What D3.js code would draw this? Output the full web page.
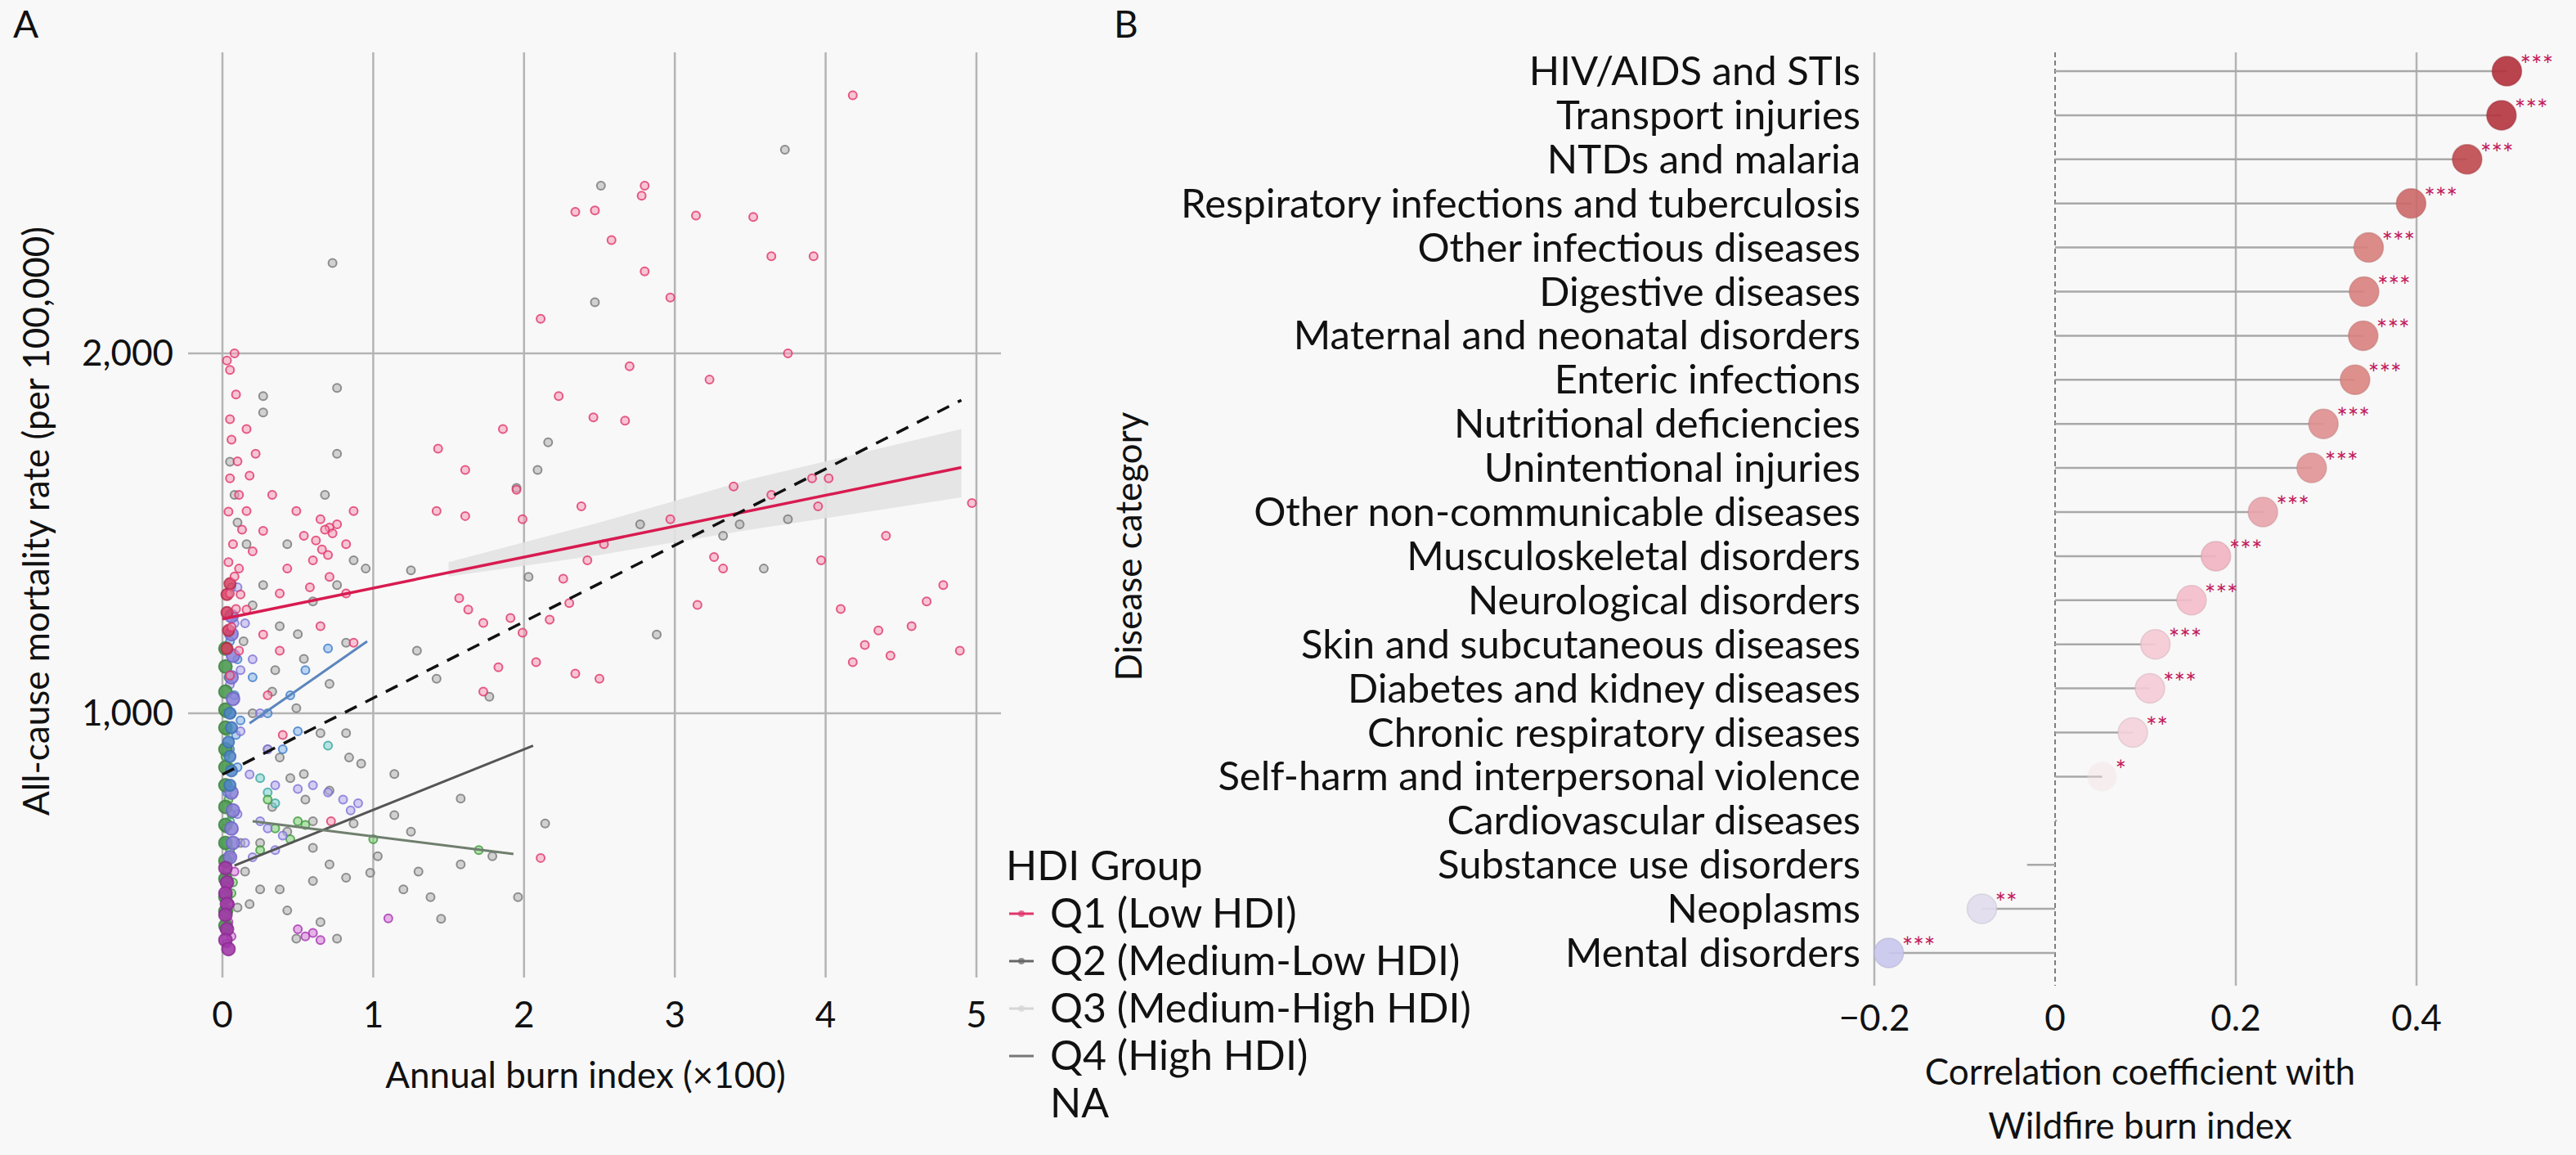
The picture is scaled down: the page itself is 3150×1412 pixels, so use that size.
<!DOCTYPE html>
<html>
<head>
<meta charset="utf-8">
<script src="https://cdn.jsdelivr.net/npm/d3@7"></script>
<style>
  body { margin: 0; background: #f8f8f8; }
  text { font-family: Lato, "Open Sans", sans-serif; fill: #111; }
</style>
</head>
<body>
<svg id="chart" width="3150" height="1412"></svg>
<script>
// ---- panel A data: [burn index (x100), mortality per 100,000] ----
var q1Points = [
  [4.18,2717],[2.8,2466],[2.78,2438],[2.34,2393],[2.47,2397],[3.14,2383],[3.52,2379],[3.64,2270],
  [3.92,2270],[2.58,2315],[2.8,2228],[2.97,2155],[2.11,2096],[3.75,2000],[2.7,1964],[3.23,1927],
  [2.23,1881],[2.46,1822],[2.67,1813],[1.86,1790],[1.43,1735],[1.61,1676],[1.95,1621],[2.38,1575],
  [1.61,1548],[1.42,1562],[1.99,1539],[3.39,1630],[3.64,1607],[3.91,1653],[3.95,1575],[4.02,1653],
  [2.53,1470],[2.42,1425],[2.97,1539],[3.26,1434],[3.32,1402],[3.15,1301],[3.97,1425],[4.4,1493],
  [4.78,1356],[4.67,1311],[4.89,1174],[4.57,1242],[4.43,1160],[4.18,1142],[4.26,1190],[4.97,1584],
  [2.08,1142],[1.99,1224],[1.91,1265],[1.57,1320],[1.63,1288],[1.73,1251],[2.26,1374],[2.3,1306],
  [2.17,1260],[1.83,1128],[1.73,1060],[2.34,1110],[2.5,1096],[2.11,598],[4.1,1290],[4.35,1230],
  [0.08,2000],[0.05,1954],[0.09,1886],[0.05,1817],[0.16,1790],[0.22,1721],[0.05,1653],[0.11,1607],
  [0.16,1562],[0.27,1507],[0.07,1470],[0.11,1402],[0.05,1333],[0.16,1288],[0.27,1219],[0.11,1174],
  [0.49,1562],[0.54,1493],[0.65,1539],[0.71,1516],[0.76,1525],[0.82,1470],[0.6,1425],[0.71,1379],
  [0.82,1333],[0.87,1562],[0.43,1402],[0.33,1607],[0.38,1333],[0.87,1196],[0.65,1242],[0.38,1174],
  [0.05,1105],[0.03,1980],[0.06,1760],[0.1,1700],[0.04,1560],[0.2,1450],[0.68,1510],[0.73,1500],
  [0.3,1050],[0.4,940],[0.72,700],[0.04,1420],[0.08,1380],[0.12,1330],[0.06,1240],[0.09,1290],
  [0.62,1480],[0.66,1455],[0.7,1440],[0.58,1350],[0.13,1510],[0.18,1660]
];
var q2Points = [
  [3.73,2566],[2.51,2466],[2.47,2142],[0.73,2251],[2.16,1753],[2.09,1676],[1.95,1626],[3.32,1493],
  [3.43,1525],[3.75,1539],[3.59,1402],[2.88,1219],[1.29,1174],[1.42,1096],[1.77,1046],[2.03,1379],
  [0.95,1402],[1.25,1397],[2.77,1525],[0.82,945],[0.84,877],[1.14,831],[1.58,763],[2.14,694],
  [1.79,603],[1.58,580],[1.25,671],[1.14,717],[0.87,694],[1.03,603],[0.82,543],[0.6,534],
  [0.38,511],[0.25,511],[0.43,452],[0.65,420],[0.76,374],[0.49,374],[1.38,489],[1.45,429],
  [1.96,489],[1.2,511],[0.98,557],[0.71,580],[0.6,626],[0.43,671],[0.33,740],[0.71,785],
  [0.54,831],[0.38,877],[0.65,945],[0.49,1014],[0.71,1082],[0.33,1060],[0.54,1151],[0.82,1196],
  [0.38,1242],[0.6,1311],[0.27,1356],[0.76,1356],[0.87,1425],[0.43,1470],[0.68,1607],[0.76,1721],
  [0.27,1836],[0.27,1881],[0.76,1904],[0.05,1699],[0.08,1607],[0.16,1470],[0.2,1000],[0.3,900],
  [0.45,820],[0.55,760],[0.25,640],[0.15,560],[0.1,460],[0.6,700],[0.92,860],[1.3,560],
  [0.1,1530],[0.06,1350],[0.14,1200],[0.2,1300],[0.5,1220],[0.35,1120],[0.12,640],[0.18,470]
];
var bluePoints = [
  [0.05,1200],[0.1,1150],[0.08,1050],[0.12,980],[0.3,1000],[0.45,1050],[0.55,1120],[0.7,1180],
  [0.5,950],[0.4,900],[0.05,900],[0.1,850],[0.03,780],[0.2,1100],[0.06,1000],[0.09,940]
];
var purplePoints = [
  [0.1,1350],[0.15,1250],[0.2,1150],[0.25,1000],[0.3,900],[0.35,800],[0.5,790],[0.6,800],
  [0.7,780],[0.8,760],[0.9,750],[0.85,730],[0.3,680],[0.1,720],[0.15,640],[0.2,600],
  [0.35,620],[0.4,660],[0.05,1080],[0.12,950],[0.25,700],[0.08,1250],[0.12,1120],[0.18,830]
];
var greenPoints = [
  [0.03,950],[0.05,850],[0.04,760],[0.02,680],[0.05,620],[0.03,560],[0.06,500],[0.04,450],
  [0.3,760],[0.5,700],[0.35,680],[0.45,650],[0.25,620],[0.55,690],[1.0,650],[1.7,620],
  [0.03,400],[0.07,530],[0.02,880],[0.02,1000],[0.04,1100],[0.06,720]
];
var magentaPoints = [
  [0.03,520],[0.05,470],[0.04,420],[0.06,380],[0.5,400],[0.6,390],[0.65,370],[1.1,430],
  [0.55,380],[0.08,560],[0.03,360],[0.05,600]
];
var tealPoints = [[0.3,780],[0.35,750],[0.05,700],[0.02,640],[0.25,820],[0.7,910]];
// the dense column of countries with burn index close to zero
var stripGreen = [[0.02,1180],[0.02,1130],[0.02,1060],[0.02,1010],[0.02,960],[0.02,900],[0.02,850],
  [0.02,800],[0.02,740],[0.02,690],[0.02,640],[0.02,590],[0.02,540],[0.02,490],[0.02,450],[0.02,410]];
var stripPurple = [[0.06,1270],[0.06,1220],[0.07,1160],[0.06,1100],[0.07,1040],[0.06,780],[0.07,730],
  [0.06,680],[0.07,640],[0.05,600]];
var stripMagenta = [[0.02,570],[0.03,530],[0.02,500],[0.03,470],[0.02,440],[0.03,400],[0.02,370],[0.04,345]];
var stripBlue = [[0.05,1000],[0.06,960],[0.04,920],[0.05,880],[0.06,840],[0.05,800]];
var stripRed = [[0.03,1330],[0.03,1280],[0.04,1230],[0.03,1180],[0.05,1360]];

var fitLines = [
  {name: "Q1", x0: 0, y0: 1262, x1: 4.9, y1: 1683},
  {name: "All", x0: 0, y0: 830, x1: 4.9, y1: 1870},
  {name: "Q3a", x0: 0.18, y0: 972, x1: 0.96, y1: 1200},
  {name: "Q2", x0: 0.08, y0: 577, x1: 2.06, y1: 910},
  {name: "Q4", x0: 0.2, y0: 700, x1: 1.93, y1: 609}
];
var bandX = [1.5, 2.5, 3.5, 4.9];
var bandLo = [1380, 1440, 1510, 1600];
var bandHi = [1420, 1530, 1650, 1790];

var xTicksA = [0, 1, 2, 3, 4, 5];
var yTicksA = [1000, 2000];
var legendLabels = ["Q1 (Low HDI)", "Q2 (Medium-Low HDI)", "Q3 (Medium-High HDI)", "Q4 (High HDI)", "NA"];

// ---- panel B data ----
var categories = [
  "HIV/AIDS and STIs", "Transport injuries", "NTDs and malaria", "Respiratory infections and tuberculosis",
  "Other infectious diseases", "Digestive diseases", "Maternal and neonatal disorders", "Enteric infections",
  "Nutritional deficiencies", "Unintentional injuries", "Other non-communicable diseases",
  "Musculoskeletal disorders", "Neurological disorders", "Skin and subcutaneous diseases",
  "Diabetes and kidney diseases", "Chronic respiratory diseases", "Self-harm and interpersonal violence",
  "Cardiovascular diseases", "Substance use disorders", "Neoplasms", "Mental disorders"
];
var coefs = [0.500, 0.494, 0.456, 0.394, 0.347, 0.342, 0.341, 0.332, 0.297, 0.284, 0.230,
  0.178, 0.151, 0.111, 0.105, 0.086, 0.052, 0.002, -0.031, -0.081, -0.184];
var stars = ["***","***","***","***","***","***","***","***","***","***","***",
  "***","***","***","***","**","*","","","**","***"];
var xTicksB = [-0.2, 0, 0.2, 0.4];

var svg = d3.select("#chart");
var grid = "#b4b4b4";

// ================= Panel A =================
var xA = d3.scaleLinear().domain([0, 5]).range([272, 1194]);
var yA = d3.scaleLinear().domain([1000, 2000]).range([872, 432]);
var topA = 64, botA = 1195, leftA = 230, rightA = 1224;

svg.append("text").attr("x", 16).attr("y", 46).style("font-size", "46px").text("A");

var gA = svg.append("g");
gA.selectAll(".vg").data(xTicksA).enter().append("line")
  .attr("x1", d => xA(d)).attr("x2", d => xA(d)).attr("y1", topA).attr("y2", botA)
  .attr("stroke", grid).attr("stroke-width", 2.5);
gA.selectAll(".hg").data(yTicksA).enter().append("line")
  .attr("x1", leftA).attr("x2", rightA).attr("y1", d => yA(d)).attr("y2", d => yA(d))
  .attr("stroke", grid).attr("stroke-width", 2.5);
gA.selectAll(".xt").data(xTicksA).enter().append("text")
  .attr("x", d => xA(d)).attr("y", 1256).attr("text-anchor", "middle")
  .style("font-size", "44px").text(d => d);
gA.selectAll(".yt").data(yTicksA).enter().append("text")
  .attr("x", 212).attr("y", d => yA(d) + 15).attr("text-anchor", "end")
  .style("font-size", "44px").text(d3.format(","));
gA.append("text").attr("x", 716).attr("y", 1330).attr("text-anchor", "middle")
  .style("font-size", "44px").text("Annual burn index (×100)");
gA.append("text").attr("transform", "translate(60,637) rotate(-90)").attr("text-anchor", "middle")
  .style("font-size", "44px").text("All-cause mortality rate (per 100,000)");

// confidence band
var area = d3.area().x(d => xA(d[0])).y0(d => yA(d[1])).y1(d => yA(d[2]));
gA.append("path").datum(bandX.map((x, i) => [x, bandLo[i], bandHi[i]]))
  .attr("d", area).attr("fill", "#e2e2e2").attr("opacity", 0.9);

function dots(data, fill, stroke, r, fo) {
  gA.append("g").selectAll("circle").data(data).enter().append("circle")
    .attr("cx", d => xA(d[0])).attr("cy", d => yA(d[1])).attr("r", r || 5)
    .attr("fill", fill).attr("fill-opacity", fo || 0.55)
    .attr("stroke", stroke).attr("stroke-width", 2).attr("stroke-opacity", 0.8);
}
dots(q2Points, "#b0b0b0", "#777");
dots(tealPoints, "#7fd3d0", "#3aa6a0");
dots(greenPoints, "#7ccf72", "#3f9a3a");
dots(bluePoints, "#86b4ea", "#3d7cc9");
dots(purplePoints, "#b2acef", "#7d72d6");
dots(magentaPoints, "#d57ad8", "#a534b0");
dots(stripGreen, "#4e9a52", "#3d7f40", 8, 0.9);
dots(stripPurple, "#8a80d8", "#6d62c4", 8, 0.85);
dots(stripBlue, "#4f86c9", "#3d6fb0", 7, 0.85);
dots(stripMagenta, "#a23aa8", "#8a2a90", 8, 0.9);
dots(stripRed, "#d8405f", "#b02a48", 7, 0.85);
dots(q1Points, "#f59ab4", "#e0366b");

var lineStyle = {
  Q1: {c: "#d81b50", w: 3.5, dash: null},
  All: {c: "#111", w: 3.5, dash: "16,12"},
  Q3a: {c: "#5b86bd", w: 3, dash: null},
  Q2: {c: "#555", w: 3, dash: null},
  Q4: {c: "#6f7f6f", w: 3, dash: null}
};
gA.selectAll(".fit").data(fitLines).enter().append("line")
  .attr("x1", d => xA(d.x0)).attr("y1", d => yA(d.y0)).attr("x2", d => xA(d.x1)).attr("y2", d => yA(d.y1))
  .attr("stroke", d => lineStyle[d.name].c).attr("stroke-width", d => lineStyle[d.name].w)
  .attr("stroke-dasharray", d => lineStyle[d.name].dash);

// legend
var leg = svg.append("g");
leg.append("text").attr("x", 1230).attr("y", 1076).style("font-size", "50px").text("HDI Group");
var keyCol = ["#e0366b", "#666", "#d6d6d6", "#777", null];
legendLabels.forEach(function(t, i) {
  var y = 1117 + i * 58;
  if (keyCol[i]) {
    leg.append("line").attr("x1", 1234).attr("x2", 1264).attr("y1", y).attr("y2", y)
      .attr("stroke", keyCol[i]).attr("stroke-width", 3);
    if (i < 3) leg.append("circle").attr("cx", 1249).attr("cy", y).attr("r", 4)
      .attr("fill", keyCol[i]).attr("opacity", 0.7);
  }
  leg.append("text").attr("x", 1284).attr("y", y + 17).style("font-size", "50px").text(t);
});

// ================= Panel B =================
var xB = d3.scaleLinear().domain([-0.2, 0.4]).range([2292, 2955]);
var yB = d3.scalePoint().domain(categories).range([87, 1165]);
var topB = 64, botB = 1205;
var gB = svg.append("g");

svg.append("text").attr("x", 1362).attr("y", 46).style("font-size", "46px").text("B");

gB.selectAll(".vg").data(xTicksB.filter(d => d !== 0)).enter().append("line")
  .attr("x1", d => xB(d)).attr("x2", d => xB(d)).attr("y1", topB).attr("y2", botB)
  .attr("stroke", grid).attr("stroke-width", 2.5);
gB.append("line").attr("x1", xB(0)).attr("x2", xB(0)).attr("y1", topB).attr("y2", botB)
  .attr("stroke", "#555").attr("stroke-width", 1.5).attr("stroke-dasharray", "6,4");
gB.selectAll(".xt").data(xTicksB).enter().append("text")
  .attr("x", d => xB(d)).attr("y", 1260).attr("text-anchor", "middle")
  .style("font-size", "44px").text(d => d === 0 ? "0" : (d < 0 ? "\u2212" + Math.abs(d) : d));
gB.append("text").attr("x", 2617).attr("y", 1326).attr("text-anchor", "middle")
  .style("font-size", "44px").text("Correlation coefficient with");
gB.append("text").attr("x", 2617).attr("y", 1392).attr("text-anchor", "middle")
  .style("font-size", "44px").text("Wildfire burn index");
gB.append("text").attr("transform", "translate(1396,668) rotate(-90)").attr("text-anchor", "middle")
  .style("font-size", "44px").text("Disease category");

gB.selectAll(".cat").data(categories).enter().append("text")
  .attr("x", 2275).attr("y", d => yB(d) + 17).attr("text-anchor", "end")
  .style("font-size", "49px").text(d => d);

var colB = d3.scaleLinear().domain([-0.2, 0, 0.15, 0.35, 0.5])
  .range(["#c4c2ec", "#f3eeee", "#f4bccb", "#d77e7a", "#b3303b"]);

gB.selectAll(".stem").data(coefs).enter().append("line")
  .attr("x1", xB(0)).attr("x2", d => xB(d))
  .attr("y1", (d, i) => yB(categories[i])).attr("y2", (d, i) => yB(categories[i]))
  .attr("stroke", "#a8a8a8").attr("stroke-width", 2.5);
gB.selectAll(".dot").data(coefs).enter().append("circle")
  .attr("cx", d => xB(d)).attr("cy", (d, i) => yB(categories[i])).attr("r", 18)
  .attr("fill", d => colB(d)).attr("fill-opacity", d => Math.abs(d) < 0.04 ? 0 : (Math.abs(d) < 0.06 ? 0.4 : 0.9))
  .attr("stroke", d => d3.color(colB(d)).darker(0.4)).attr("stroke-width", 1.5)
  .attr("stroke-opacity", d => Math.abs(d) < 0.06 ? 0 : 0.5);
gB.selectAll(".star").data(coefs).enter().append("text")
  .attr("x", d => xB(d) + 16).attr("y", (d, i) => yB(categories[i]) + 4)
  .style("font-size", "32px").style("fill", "#c2185b").text((d, i) => stars[i]);
</script>
</body>
</html>
